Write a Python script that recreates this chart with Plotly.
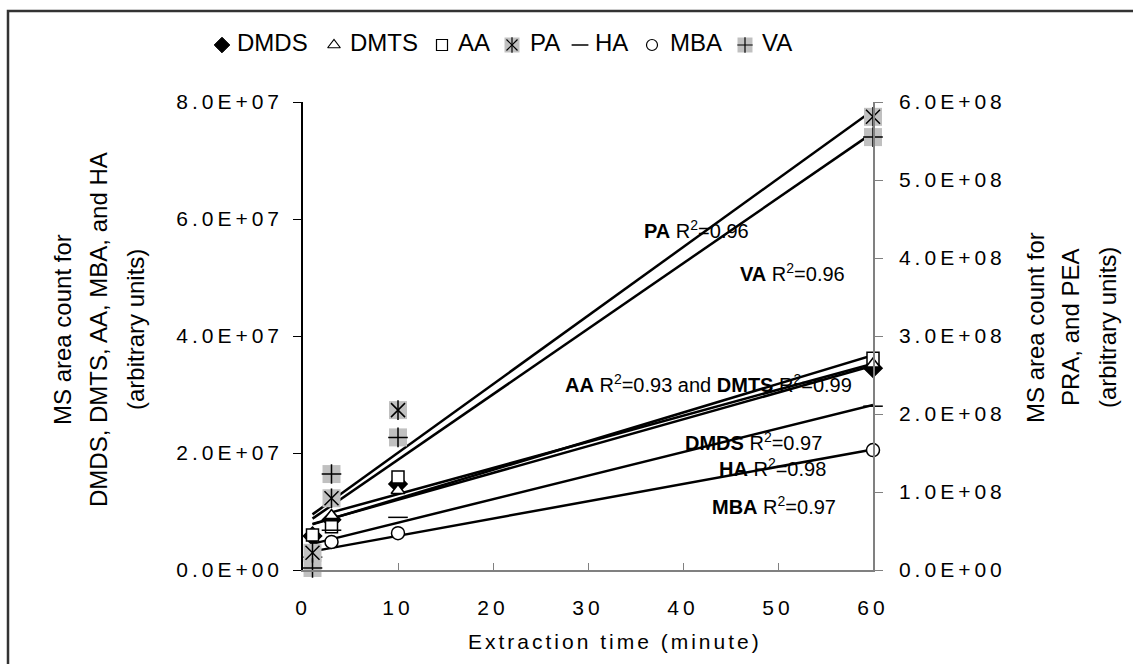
import numpy as np
import plotly.graph_objects as go

# ---------------- data ----------------
time_min = [1, 3, 10, 60]
time_dmts = [3, 10, 60]
dmds = [5.8e6, 8.6e6, 14.7e6, 34.5e6]
dmts = [9.3e6, 13.6e6, 35.2e6]
aa = [6.0e6, 7.4e6, 15.9e6, 36.2e6]
ha = [2.2e6, 6.8e6, 9.0e6, 28.0e6]
mba = [1.8e6, 4.8e6, 6.3e6, 20.5e6]
pa = [2.2e7, 9.2e7, 2.05e8, 5.81e8]
va = [0.26e7, 1.23e8, 1.70e8, 5.55e8]

x_ticks = [0, 10, 20, 30, 40, 50, 60]
y1_ticks = [0, 2e7, 4e7, 6e7, 8e7]
y1_ticktext = ["0.0E+00", "2.0E+07", "4.0E+07", "6.0E+07", "8.0E+07"]
y2_ticks = [0, 1e8, 2e8, 3e8, 4e8, 5e8, 6e8]
y2_ticktext = ["0.0E+00", "1.0E+08", "2.0E+08", "3.0E+08", "4.0E+08", "5.0E+08", "6.0E+08"]

legend_names = ["DMDS", "DMTS", "AA", "PA", "HA", "MBA", "VA"]

FONT = "Liberation Sans, Arial, sans-serif"
GRAY_BOX = "#c0c0c0"


def sp(text, ls):
    return f'<span style="letter-spacing:{ls}px">{text}</span>'


fig = go.Figure()

# ---------------- trend lines ----------------
def trend(xv, vals, yaxis):
    coef = np.polyfit(xv, vals, 1)
    xs = [min(xv), max(xv)]
    ys = np.polyval(coef, xs)
    fig.add_trace(go.Scatter(x=xs, y=ys, mode="lines", yaxis=yaxis,
                             line=dict(color="black", width=2.5),
                             showlegend=False, hoverinfo="skip"))

trend(time_min, dmds, "y")
trend(time_dmts, dmts, "y")
trend(time_min, aa, "y")
trend(time_min, ha, "y")
trend(time_min, mba, "y")
trend(time_min, pa, "y2")
trend(time_min, va, "y2")

# ---------------- markers ----------------
def pts(xv, vals, yaxis, symbol, size, color, lcolor="black", lw=1.5):
    fig.add_trace(go.Scatter(x=xv, y=vals, mode="markers", yaxis=yaxis,
                             marker=dict(symbol=symbol, size=size, color=color,
                                         line=dict(color=lcolor, width=lw)),
                             showlegend=False, cliponaxis=False))

pts(time_min, pa, "y2", "square", 18, GRAY_BOX, GRAY_BOX, 0)
pts(time_min, va, "y2", "square", 18, GRAY_BOX, GRAY_BOX, 0)
pts(time_min, pa, "y2", "x-thin-open", 14, "black")
pts(time_min, pa, "y2", "line-ns-open", 14, "black")
pts(time_min, va, "y2", "cross-thin-open", 14, "black")

pts(time_min, dmds, "y", "diamond", 14, "black")
pts(time_min, aa, "y", "square", 12, "white")
pts(time_dmts, dmts, "y", "triangle-up", 12, "white")
pts(time_min, mba, "y", "circle", 13, "white")
pts(time_min, ha, "y", "line-ew-open", 14, "black")

# ---------------- figure geometry ----------------
W, H = 1133, 664
L, R, T, B = 303, 873, 102, 570

def px(x):
    return x / W

def py(y):
    return (H - y) / H

# ---------------- custom legend (full-figure axis in pixel units) ----------------
leg_mark_x = [222, 334, 442, 512, 580, 652, 745]
leg_text_x = [237, 350, 458, 530, 595, 670, 762]
leg_y = 45

def lpt(i, symbol, size, color, lcolor="black", lw=1.5):
    fig.add_trace(go.Scatter(x=[leg_mark_x[i]], y=[leg_y], xaxis="x3", yaxis="y3",
                             mode="markers", showlegend=False, hoverinfo="skip",
                             marker=dict(symbol=symbol, size=size, color=color,
                                         line=dict(color=lcolor, width=lw))))

lpt(0, "diamond", 12, "black", "black", 1)
lpt(1, "triangle-up", 11, "white", "black", 1.2)
lpt(2, "square", 11, "white", "black", 1.2)
lpt(3, "square", 15, GRAY_BOX, GRAY_BOX, 0)
lpt(3, "x-thin-open", 11, "black", "black", 1.2)
lpt(3, "line-ns-open", 11, "black", "black", 1.2)
lpt(4, "line-ew-open", 12, "black", "black", 1.5)
lpt(5, "circle", 11, "white", "black", 1.2)
lpt(6, "square", 15, GRAY_BOX, GRAY_BOX, 0)
lpt(6, "cross-thin-open", 11, "black", "black", 1.2)

fig.add_trace(go.Scatter(x=leg_text_x, y=[leg_y] * len(legend_names), xaxis="x3", yaxis="y3",
                         mode="text", text=legend_names, textposition="middle right",
                         textfont=dict(size=24, color="black", family=FONT),
                         showlegend=False, hoverinfo="skip", cliponaxis=False))

annotations = []

LBL = 20


def r2(label, val):
    return f"<b>{label}</b> R<sup>2</sup>={val}"

lab = [
    (642, 230, "left", r2("PA", "0.96")),
    (738, 272, "left", r2("VA", "0.96")),
    (854, 383, "right", "<b>AA</b> R<sup>2</sup>=0.93 and <b>DMTS</b> R<sup>2</sup>=0.99"),
    (683, 441, "left", r2("DMDS", "0.97")),
    (717, 467, "left", r2("HA", "0.98")),
    (710, 505, "left", r2("MBA", "0.97")),
]
for x, y, xa, t in lab:
    annotations.append(dict(x=px(x), y=py(y), xref="paper", yref="paper", xanchor=xa,
                            yanchor="middle", showarrow=False, text=t,
                            font=dict(size=LBL, color="black", family=FONT)))

left_lines = ["MS area count for", "DMDS, DMTS, AA, MBA, and HA", "(arbitrary units)"]
left_x = [62, 98, 135]
for t, x in zip(left_lines, left_x):
    annotations.append(dict(x=px(x), y=py(330), xref="paper", yref="paper", textangle=-90,
                            xanchor="center", yanchor="middle", showarrow=False, text=t,
                            font=dict(size=24, color="black", family=FONT)))
right_lines = ["MS area count for", "PRA, and PEA", "(arbitrary units)"]
right_x = [1035, 1070, 1107]
for t, x in zip(right_lines, right_x):
    annotations.append(dict(x=px(x), y=py(328), xref="paper", yref="paper", textangle=-90,
                            xanchor="center", yanchor="middle", showarrow=False, text=t,
                            font=dict(size=24, color="black", family=FONT)))

annotations.append(dict(x=px(615), y=py(641), xref="paper", yref="paper",
                        xanchor="center", yanchor="middle", showarrow=False,
                        text=sp("Extraction time (minute)", 3),
                        font=dict(size=21, color="black", family=FONT)))

tick_font = dict(size=21, color="black", family=FONT)

fig.update_layout(
    width=W, height=H,
    margin=dict(l=0, r=0, t=0, b=0, pad=0, autoexpand=False),
    paper_bgcolor="white", plot_bgcolor="rgba(0,0,0,0)",
    showlegend=False,
    font=dict(family=FONT, color="black"),
    xaxis=dict(domain=[L / W, R / W], range=[0, 60], tickvals=x_ticks,
               ticktext=[sp(str(v), 4) for v in x_ticks],
               ticks="inside", ticklen=7, tickcolor="#808080", tickwidth=1.2,
               showline=True, linecolor="#808080", linewidth=1.5,
               showgrid=False, zeroline=False, tickfont=tick_font,
               ticklabelstandoff=18, automargin=False),
    yaxis=dict(domain=[(H - B) / H, (H - T) / H], range=[0, 8e7], tickvals=y1_ticks,
               ticktext=[sp(t, 4) for t in y1_ticktext],
               ticks="outside", ticklen=8, tickcolor="black", tickwidth=1.2,
               showline=True, linecolor="black", linewidth=1.5,
               showgrid=False, zeroline=False, tickfont=tick_font,
               ticklabelstandoff=6, automargin=False),
    yaxis2=dict(range=[0, 6e8], tickvals=y2_ticks,
                ticktext=[sp(t, 4) for t in y2_ticktext],
                overlaying="y", side="right", anchor="x",
                ticks="outside", ticklen=8, tickcolor="#808080", tickwidth=1.2,
                showline=True, linecolor="#808080", linewidth=1.5,
                showgrid=False, zeroline=False, tickfont=tick_font,
                ticklabelstandoff=12, automargin=False),
    # inner half of the crossing tick marks on the right axis
    yaxis4=dict(range=[0, 6e8], tickvals=y2_ticks, showticklabels=False,
                overlaying="y", side="right", anchor="x",
                ticks="inside", ticklen=8, tickcolor="#808080", tickwidth=1.2,
                showline=False, showgrid=False, zeroline=False, automargin=False),
    xaxis3=dict(range=[0, W], domain=[0, 1], anchor="y3", visible=False,
                fixedrange=True, automargin=False),
    yaxis3=dict(range=[H, 0], domain=[0, 1], anchor="x3", visible=False,
                fixedrange=True, automargin=False),
    annotations=annotations,
    shapes=[dict(type="rect", xref="paper", yref="paper",
                 x0=px(8), x1=px(1150), y0=py(11), y1=py(690),
                 line=dict(color="#333333", width=2.5), fillcolor="rgba(0,0,0,0)",
                 layer="above")],
)

fig.write_html("out.html")
